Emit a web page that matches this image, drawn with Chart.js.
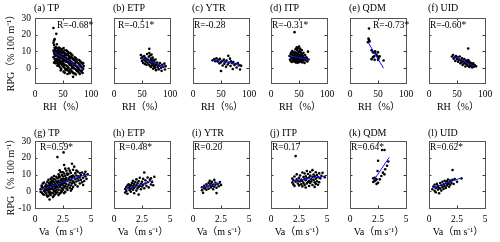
<!DOCTYPE html>
<html>
<head>
<meta charset="utf-8">
<script src="https://cdn.jsdelivr.net/npm/chart.js@4.4.1/dist/chart.umd.min.js"></script>
<style>
  body { margin: 0; background: #fff; width: 500px; height: 242px; overflow: hidden; position: relative; }
  canvas { position: absolute; }
</style>
</head>
<body>
<script>
// panel labels and correlation text
const panelTitles = ["(a) TP", "(b) ETP", "(c) YTR", "(d) ITP", "(e) QDM", "(f) UID",
                     "(g) TP", "(h) ETP", "(i) YTR", "(j) ITP", "(k) QDM", "(l) UID"];
const rLabels = ["R=-0.68*", "R=-0.51*", "R=-0.28", "R=-0.31*", "R=-0.73*", "R=-0.60*",
                 "R=0.59*", "R=0.48*", "R=0.20", "R=0.17", "R=0.64*", "R=0.62*"];

const rhTicks = [0, 50, 100];
const vaTicks = [0, 2.5, 5];
const rpgTicksTop = [0, 10, 20, 30];
const rpgTicksBottom = [-10, 0, 10, 20, 30];

// RPG vs RH  [RH, RPG]
const tpRH = [
  [33,24.0],[34,16.5],[33,15.2],[35,17.3],[34,13.8],[35,12.1],[33,10.4],[36,11.2],[34,9.1],[35,8.3],[36,7.2],[33,6.5],[35,5.4],[36,4.1],[34,3.2],[36,9.8],
  [38,20.5],[39,14.2],[37,12.6],[40,11.9],[41,10.7],[38,10.1],[42,9.6],[39,8.8],[40,7.9],[37,7.4],[41,6.8],[42,6.1],[38,5.5],[40,4.7],[39,3.9],[41,3.1],[42,2.2],[40,1.4],[37,2.8],[42,8.4],
  [43,12.3],[45,11.6],[47,10.9],[44,10.2],[46,9.5],[48,9.0],[43,8.6],[45,7.8],[47,7.3],[44,6.9],[46,6.2],[48,5.8],[43,5.1],[45,4.5],[47,3.9],[44,3.3],[46,2.6],[48,1.9],[43,1.2],[45,0.3],[47,-0.6],[46,-1.4],[44,4.0],[48,6.6],
  [49,11.4],[51,12.0],[53,10.5],[50,9.8],[52,9.1],[54,8.7],[55,7.9],[49,7.5],[51,6.8],[53,6.3],[50,5.6],[52,5.0],[54,4.4],[55,3.8],[49,3.2],[51,2.6],[53,1.9],[50,1.1],[52,0.4],[54,-0.5],[55,-1.3],[51,-2.2],[53,-2.9],[50,4.2],[54,6.0],[52,7.4],
  [56,10.6],[58,9.9],[60,9.2],[57,8.4],[59,7.7],[61,7.1],[62,6.3],[56,5.9],[58,5.2],[60,4.6],[57,3.9],[59,3.3],[61,2.7],[62,2.0],[56,1.5],[58,0.8],[60,0.1],[57,-0.7],[59,-1.5],[61,-2.3],[62,-3.1],[58,-3.6],[60,5.7],[56,7.6],[62,4.1],
  [63,8.9],[65,8.2],[67,7.5],[64,6.7],[66,6.0],[68,5.3],[70,4.7],[63,4.2],[65,3.6],[67,3.0],[69,2.3],[64,1.7],[66,1.0],[68,0.4],[70,-0.3],[63,-1.0],[65,-1.8],[67,-2.5],[69,-3.2],[68,-5.3],[64,2.9],[66,-0.2],[70,1.6],[63,5.8],
  [71,6.4],[73,5.8],[75,5.1],[72,4.5],[74,3.8],[76,3.2],[78,2.6],[71,2.0],[73,1.4],[75,0.8],[77,0.1],[72,-0.6],[74,-1.3],[76,-2.0],[78,-2.7],[71,-3.3],[73,-3.9],[75,-1.5],[77,-0.4],[72,3.1],
  [79,4.8],[81,3.9],[83,3.1],[85,2.4],[80,1.7],[82,1.0],[84,0.3],[86,-0.4],[79,-1.0],[81,-1.7],[83,-2.4],[85,-3.0],[80,-3.6],[87,1.2],[86,2.9],[84,-1.5],[82,3.4]
];
const etpRH = [
  [48,7.8],[49,5.9],[50,4.2],[51,6.7],[52,3.1],[53,5.2],[54,7.1],[55,2.4],[55,4.6],[56,6.0],[57,3.8],[58,1.9],[58,5.4],[59,8.4],[60,3.2],[61,4.9],[62,6.8],[62,2.1],[63,11.5],[63,9.0],
  [64,4.1],[64,1.3],[65,7.6],[65,3.5],[66,5.6],[66,0.6],[67,2.7],[67,8.1],[68,4.4],[68,1.5],[69,3.0],[69,6.2],[70,-0.4],[70,2.2],[71,4.8],[72,1.1],[72,3.6],[73,0.2],[74,2.5],[74,5.1],
  [75,-1.3],[76,1.7],[77,3.3],[78,0.4],[79,2.1],[80,-0.8],[81,1.4],[82,3.0],[84,0.2],[85,-1.7],[86,1.9],[88,0.7],[90,2.6],[91,-0.9],[92,1.1]
];
const ytrRH = [
  [35,4.6],[38,5.3],[40,4.1],[42,5.8],[44,3.9],[45,4.7],[47,2.8],[48,5.5],[50,-1.8],[50,3.4],[52,4.2],[53,1.5],[55,5.0],[56,2.6],[58,3.8],[59,0.7],[60,4.5],
  [62,2.1],[63,7.3],[64,3.2],[66,5.6],[67,1.2],[68,4.0],[70,2.9],[71,-0.6],[72,3.6],[74,1.8],[76,2.4],[78,0.3],[80,2.9],[82,1.6],[84,-0.9],[86,1.3]
];
const itpRH = [
  [33,7.2],[34,5.1],[35,8.4],[35,4.3],[36,6.6],[36,9.2],[37,5.7],[37,3.6],[38,7.8],[38,10.1],[39,6.2],[39,4.5],[40,8.9],[40,5.4],[41,7.1],[41,3.9],[42,21.5],[42,9.7],[42,6.0],[43,4.8],
  [43,8.2],[44,11.3],[44,6.9],[44,3.4],[45,5.6],[45,9.1],[46,7.5],[46,4.2],[46,12.4],[47,6.3],[47,10.6],[47,3.1],[48,8.4],[48,5.2],[48,11.8],[49,7.0],[49,4.0],[49,9.6],[50,6.1],[50,12.9],
  [50,3.5],[51,8.0],[51,5.0],[51,10.3],[52,6.8],[52,4.1],[52,11.6],[53,7.7],[53,5.6],[53,9.4],[54,3.8],[54,6.5],[55,8.6],[55,4.9],[55,10.8],[56,6.0],[56,3.3],[57,7.4],[57,5.2],[58,9.1],
  [58,4.4],[59,6.3],[60,5.5],[60,3.0],[61,7.8],[62,4.6],[63,6.4],[64,5.8],[65,3.9],[66,9.8],[67,5.1]
];
const qdmRH = [
  [34,23.7],[33,17.6],[34,16.8],[35,16.0],[32,15.5],[38.5,10.6],[41,9.4],[44,9.0],[45,10.0],[47,8.0],
  [50,9.4],[49,7.0],[53,7.0],[41,6.5],[38.5,5.3],[44,4.9],[51,5.9],[60,4.5],[43,7.0],[50,4.9]
];
const uidRH = [
  [41,6.9],[43,7.8],[44,5.6],[46,6.4],[47,4.2],[48,7.1],[50,5.3],[51,6.6],[52,3.8],[54,5.0],[55,6.9],[56,2.9],[57,4.6],[58,3.4],[59,5.8],[60,1.8],[61,4.1],[62,2.6],[63,5.3],[64,3.0],
  [65,0.9],[66,4.4],[67,2.2],[68,3.6],[69,1.4],[70,11.7],[70,4.8],[71,2.9],[72,0.6],[72,3.8],[73,2.0],[74,3.1],[75,1.2],[76,2.6],[77,0.3],[78,1.9],[79,2.8],[80,0.8],[82,1.6],[84,1.0]
];

// RPG vs Va  [Va, RPG]
const tpVa = [
  [0.5,1.2],[0.6,3.4],[0.6,-0.8],[0.7,2.1],[0.7,4.6],[0.8,0.3],[0.8,-2.1],[0.9,3.0],[0.9,1.5],[0.5,-0.3],[0.8,5.2],[0.6,2.6],[0.7,-1.6],[0.9,-0.4],
  [1.0,-1.3],[1.0,2.4],[1.0,4.1],[1.1,0.6],[1.1,-3.2],[1.1,5.7],[1.2,1.8],[1.2,-0.5],[1.2,3.3],[1.2,6.8],[1.3,-4.9],[1.3,0.9],[1.3,2.7],[1.3,4.4],[1.4,-2.2],[1.4,1.3],[1.4,3.8],[1.4,7.5],[1.0,0.8],[1.1,2.9],[1.3,-1.6],[1.2,-2.8],[1.4,5.6],[1.05,-2.4],[1.15,1.5],[1.25,4.9],[1.35,-0.7],
  [1.5,-0.9],[1.5,2.0],[1.5,4.9],[1.5,8.2],[1.6,-3.5],[1.6,1.1],[1.6,3.6],[1.6,6.1],[1.7,0.2],[1.7,2.8],[1.7,5.3],[1.7,9.1],[1.8,-1.8],[1.8,1.7],[1.8,4.2],[1.8,7.0],[1.9,0.6],[1.9,3.1],[1.9,5.8],[1.9,8.6],[1.6,-1.2],[1.8,-0.3],[1.5,6.4],[1.7,-2.6],[1.9,-1.0],[1.55,3.0],[1.65,7.4],[1.75,4.0],[1.85,2.4],
  [2.0,20.4],[2.0,-0.6],[2.0,2.3],[2.0,4.9],[2.0,7.8],[2.1,1.0],[2.1,3.7],[2.1,6.2],[2.1,10.1],[2.2,-1.4],[2.2,2.6],[2.2,5.1],[2.2,8.3],[2.3,0.4],[2.3,3.9],[2.3,6.7],[2.3,11.4],[2.4,1.8],[2.4,4.5],[2.4,7.3],[2.4,9.6],[2.1,-2.3],[2.3,-0.9],[2.2,12.5],[2.4,-0.2],[2.05,5.6],[2.15,8.9],[2.25,3.2],[2.35,5.4],
  [2.55,23.2],[2.6,15.7],[2.5,0.9],[2.5,3.5],[2.5,6.0],[2.5,8.8],[2.6,2.2],[2.6,4.8],[2.6,7.4],[2.6,10.6],[2.7,-0.4],[2.7,3.1],[2.7,5.6],[2.7,9.2],[2.8,1.6],[2.8,4.3],[2.8,7.9],[2.8,12.2],[2.9,2.7],[2.9,6.3],[2.9,9.9],[2.5,11.3],[2.7,13.5],[2.9,0.8],[2.6,-1.1],[2.65,5.9],[2.75,7.0],[2.85,10.5],
  [3.0,13.6],[3.0,3.8],[3.0,6.9],[3.0,10.4],[3.1,2.0],[3.1,5.2],[3.1,8.5],[3.2,3.4],[3.2,6.6],[3.2,11.0],[3.3,16.4],[3.3,4.7],[3.3,8.1],[3.4,2.6],[3.4,6.0],[3.4,9.3],[3.1,12.3],[3.3,1.3],[3.2,0.4],[3.4,12.8],[3.05,7.7],[3.25,9.0],
  [3.5,14.7],[3.5,5.1],[3.5,8.7],[3.6,3.9],[3.6,7.2],[3.6,10.8],[3.7,5.8],[3.7,9.4],[3.8,2.9],[3.8,7.6],[3.8,11.7],[3.9,6.4],[3.9,9.0],[4.0,4.6],[4.0,8.2],[3.7,12.4],[4.0,10.9],
  [4.1,6.8],[4.1,9.7],[4.2,5.3],[4.2,11.2],[4.3,8.0],[4.4,6.1],[4.4,10.3],[4.5,8.9],[4.6,7.4],[4.7,10.1],[4.3,3.7],[4.5,11.6]
];
const etpVa = [
  [1.0,1.3],[1.0,-0.8],[1.1,2.5],[1.1,0.2],[1.2,3.4],[1.2,-1.5],[1.3,1.8],[1.3,4.1],[1.4,0.6],[1.4,2.9],[1.5,-0.3],[1.5,3.7],[1.5,1.5],[1.6,5.0],[1.6,2.2],[1.7,0.9],[1.7,3.3],[1.7,6.2],
  [1.8,1.9],[1.8,4.4],[1.8,-1.2],[1.9,2.8],[1.9,5.5],[2.0,0.4],[2.0,3.6],[2.0,7.1],[2.1,1.7],[2.1,4.7],[2.2,2.5],[2.2,-2.0],[2.2,6.0],[2.3,3.2],[2.3,8.1],[2.4,1.2],[2.4,4.5],
  [2.5,2.8],[2.5,5.7],[2.6,3.9],[2.6,7.4],[2.7,11.2],[2.7,1.8],[2.8,4.6],[2.8,6.6],[2.9,3.1],[3.0,5.4],[3.0,8.2],[3.1,2.3],[3.2,6.8],[3.3,4.0],[3.3,7.7],[3.4,5.5],[3.5,3.6],[3.6,8.7]
];
const ytrVa = [
  [0.8,0.6],[0.8,2.4],[0.9,-0.9],[1.0,1.7],[1.0,3.3],[1.1,2.0],[1.2,4.1],[1.2,0.9],[1.3,2.8],[1.4,5.0],[1.4,1.5],[1.5,3.6],[1.5,6.2],[1.6,2.3],[1.6,4.6],
  [1.7,3.1],[1.7,5.6],[1.8,1.2],[1.8,4.0],[1.9,6.8],[1.9,2.7],[2.0,3.9],[2.0,5.2],[2.1,2.1],[2.1,-1.1],[2.2,4.4],[2.3,3.0],[2.4,5.5],[2.5,3.8]
];
const itpVa = [
  [1.9,5.2],[1.9,7.6],[2.0,4.1],[2.0,6.5],[2.1,8.8],[2.1,3.2],[2.2,21.0],[2.2,5.7],[2.3,7.2],[2.3,10.1],[2.4,4.6],[2.4,6.3],[2.5,8.1],[2.5,3.5],[2.6,5.9],[2.6,9.4],[2.7,7.0],[2.7,4.2],
  [2.8,11.2],[2.8,6.1],[2.8,2.9],[2.9,8.5],[2.9,5.0],[3.0,7.4],[3.0,3.8],[3.0,10.6],[3.1,6.6],[3.1,9.0],[3.2,4.7],[3.2,12.1],[3.2,7.8],[3.3,5.5],[3.3,10.3],[3.4,3.1],[3.4,8.2],[3.4,6.2],
  [3.5,11.5],[3.5,4.9],[3.5,9.3],[3.6,7.1],[3.6,5.8],[3.7,12.6],[3.7,8.6],[3.7,3.7],[3.8,6.7],[3.8,10.0],[3.9,5.3],[3.9,8.9],[4.0,11.3],[4.0,7.5],[4.0,4.4],[4.1,9.6],[4.1,6.0],
  [4.2,8.3],[4.3,10.7],[4.3,5.4],[4.4,7.7],[4.5,9.2],[4.6,11.0],[4.8,8.4],[4.2,3.9],[3.9,2.6],[3.1,2.2]
];
const qdmVa = [
  [2.86,24.6],[3.08,24.6],[2.51,18.2],[3.42,17.8],[3.31,15.2],[3.14,13.1],[2.46,12.1],[2.94,11.1],[2.23,8.1],
  [2.37,7.1],[2.17,6.1],[2.51,5.1],[2.28,6.5],[2.66,7.1],[2.08,5.5],[2.8,9.1],[3.08,10.1],[2.08,7.7],[2.37,4.4]
];
const uidVa = [
  [0.3,1.2],[0.4,2.8],[0.5,0.3],[0.5,3.9],[0.6,1.9],[0.6,-0.6],[0.7,2.5],[0.7,4.4],[0.8,1.0],[0.8,3.2],[0.9,-1.2],[0.9,2.1],[1.0,4.9],[1.0,1.6],[1.1,3.6],[1.1,0.4],[1.2,5.6],[1.2,2.6],[1.3,4.1],[1.3,1.3],
  [1.4,6.3],[1.4,3.0],[1.5,4.8],[1.5,2.0],[1.6,5.9],[1.6,3.5],[1.7,7.0],[1.7,4.4],[1.8,2.7],[1.8,5.2],[1.9,6.4],[1.9,3.9],[2.0,5.0],[2.1,12.7],[2.1,6.8],[2.2,4.3],[2.3,7.3],[2.5,5.6],[2.9,7.6]
];

// regression line end points [x, RPG]
const tpRHFit = [[33, 9.6], [87, -1.0]];
const etpRHFit = [[48, 6.1], [92, 0.5]];
const ytrRHFit = [[35, 5.0], [86, 2.0]];
const itpRHFit = [[33, 7.3], [67, 5.2]];
const qdmRHFit = [[32, 15.6], [60, -0.2]];
const uidRHFit = [[43, 7.4], [80, 1.2]];
const tpVaFit = [[0.6, 1.0], [4.7, 10.3]];
const etpVaFit = [[1.0, 1.0], [3.5, 6.3]];
const ytrVaFit = [[0.75, 2.0], [2.5, 5.0]];
const itpVaFit = [[1.9, 6.1], [4.9, 9.1]];
const qdmVaFit = [[2.08, 6.1], [3.5, 20.2]];
const uidVaFit = [[0.3, 2.0], [2.95, 8.1]];

const panelPoints = [tpRH, etpRH, ytrRH, itpRH, qdmRH, uidRH, tpVa, etpVa, ytrVa, itpVa, qdmVa, uidVa];
const panelFits = [tpRHFit, etpRHFit, ytrRHFit, itpRHFit, qdmRHFit, uidRHFit,
                   tpVaFit, etpVaFit, ytrVaFit, itpVaFit, qdmVaFit, uidVaFit];

// layout (pixels)
const rLabelDx = [22, 4, 1, 1, 23, 1, 5, 5, 1, 1, 1, 1];
const frameW = 56;
const padL = 35, padT = 18, padR = 8, padB = 32;
const serif = "'Liberation Serif', 'Noto Sans CJK SC', serif";

const panelDecor = {
  id: "panelDecor",
  afterDraw(chart) {
    const o = chart.options.plugins.panelDecor;
    const ctx = chart.ctx;
    const a = chart.chartArea;
    const xs = chart.scales.x, ys = chart.scales.y;
    ctx.save();
    // inward ticks
    ctx.strokeStyle = "#3a3a3a";
    ctx.lineWidth = 1;
    ctx.beginPath();
    o.xTicks.forEach(v => {
      const px = Math.round(xs.getPixelForValue(v)) + 0.5;
      if (px < a.left + 2 || px > a.right - 2) return;
      ctx.moveTo(px, a.bottom); ctx.lineTo(px, a.bottom - 2.5);
      ctx.moveTo(px, a.top); ctx.lineTo(px, a.top + 2.5);
    });
    o.yTicks.forEach(v => {
      const py = Math.round(ys.getPixelForValue(v)) + 0.5;
      if (py < a.top + 2 || py > a.bottom - 2) return;
      ctx.moveTo(a.left, py); ctx.lineTo(a.left + 2.5, py);
      ctx.moveTo(a.right, py); ctx.lineTo(a.right - 2.5, py);
    });
    ctx.stroke();
    // box
    ctx.strokeStyle = "#555";
    ctx.strokeRect(Math.round(a.left) + 0.5, Math.round(a.top) + 0.5,
                   Math.round(a.right - a.left), Math.round(a.bottom - a.top));
    ctx.fillStyle = "#000";
    ctx.textBaseline = "middle";
    // panel title
    ctx.font = "10px " + serif;
    ctx.textAlign = "left";
    ctx.fillText(o.title, a.left - 1, a.top - o.titleGap);
    // R value
    ctx.font = "9.5px " + serif;
    ctx.fillText(o.rText, a.left + o.rDx, a.top + o.rDy);
    // x title
    ctx.font = "10px " + serif;
    ctx.textAlign = "center";
    ctx.fillText(o.xTitle, (a.left + a.right) / 2 + 1, a.bottom + 24);
    // y title
    if (o.yTitle) {
      ctx.translate(11, (a.top + a.bottom) / 2);
      ctx.rotate(-Math.PI / 2);
      ctx.fillText(o.yTitle, 0, 0);
    }
    ctx.restore();
  }
};

for (let i = 0; i < 12; i++) {
  const row = Math.floor(i / 6), col = i % 6;
  const fx = Math.round(35 + 78.8 * col);
  const fy = row === 0 ? 18 : 141;
  const fh = row === 0 ? 65 : 67;
  const xTicks = row === 0 ? rhTicks : vaTicks;
  const yTicks = row === 0 ? rpgTicksTop : rpgTicksBottom;

  const cv = document.createElement("canvas");
  cv.width = padL + frameW + padR;
  cv.height = padT + fh + padB;
  cv.style.left = (fx - padL) + "px";
  cv.style.top = (fy - padT) + "px";
  document.body.appendChild(cv);

  new Chart(cv, {
    type: "scatter",
    data: {
      datasets: [
        {
          type: "line",
          data: panelFits[i].map(p => ({ x: p[0], y: p[1] })),
          borderColor: "#1010ff",
          borderWidth: 1,
          pointRadius: 0,
          order: 0
        },
        {
          data: panelPoints[i].map(p => ({ x: p[0], y: p[1] })),
          backgroundColor: "#000",
          borderColor: "#000",
          borderWidth: 0,
          pointRadius: 1.3,
          order: 1
        }
      ]
    },
    options: {
      responsive: false,
      animation: false,
      events: [],
      layout: { padding: { top: padT, right: padR, left: 0, bottom: 0 } },
      plugins: {
        legend: { display: false },
        tooltip: { enabled: false },
        panelDecor: {
          title: panelTitles[i],
          titleGap: row === 0 ? 10 : 8,
          rText: rLabels[i],
          rDx: rLabelDx[i],
          rDy: row === 0 ? 7 : 6,
          xTitle: row === 0 ? "RH（%）" : "Va（m s⁻¹）",
          yTitle: col === 0 ? "RPG（% 100 m⁻¹）" : null,
          xTicks: xTicks,
          yTicks: yTicks
        }
      },
      scales: {
        x: {
          type: "linear",
          min: xTicks[0],
          max: xTicks[xTicks.length - 1],
          grid: { display: false, drawTicks: false },
          border: { display: false },
          afterBuildTicks: s => { s.ticks = xTicks.map(v => ({ value: v })); },
          afterFit: s => { s.height = padB; s.paddingRight = 0; s.paddingLeft = 0; },
          ticks: { color: "#000", font: { family: serif, size: 9.5 }, padding: 6, maxRotation: 0, autoSkip: false }
        },
        y: {
          type: "linear",
          min: row === 0 ? -9 : -10,
          max: 30,
          grid: { display: false, drawTicks: false },
          border: { display: false },
          afterBuildTicks: s => { s.ticks = yTicks.map(v => ({ value: v })); },
          afterFit: s => { s.width = padL; },
          ticks: { display: col === 0, color: "#000", font: { family: serif, size: 9.5 }, padding: 4, autoSkip: false }
        }
      }
    },
    plugins: [panelDecor]
  });
}
</script>
</body>
</html>
